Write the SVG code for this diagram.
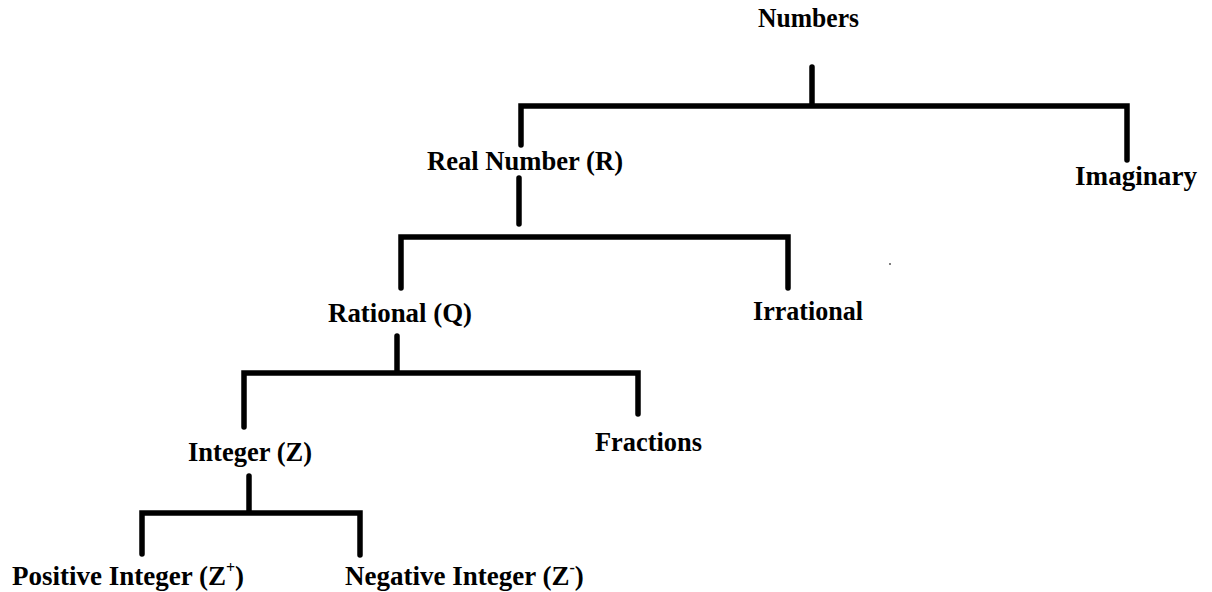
<svg xmlns="http://www.w3.org/2000/svg" width="1212" height="592" viewBox="0 0 1212 592">
<style>
.lbl{font-family:"Liberation Serif","Times New Roman",serif;font-weight:bold;font-size:27px;fill:#000}
.sup{font-size:16px}
.edge{fill:none;stroke:#000;stroke-width:5.5;stroke-linecap:round;stroke-linejoin:miter}
</style>
<rect width="1212" height="592" fill="#fff"/>
<g id="connectors">
<path class="edge" d="M812,67 V105"/>
<path class="edge" d="M521,145 V106 H1127 V160"/>
<path class="edge" d="M519,178 V224"/>
<path class="edge" d="M401,288 V237 H788 V288"/>
<path class="edge" d="M397,336 V371"/>
<path class="edge" d="M244,427 V373 H638 V414"/>
<path class="edge" d="M249,476 V511"/>
<path class="edge" d="M142,554 V513 H360 V555"/>
</g>
<g id="n-numbers"><text class="lbl" x="758" y="27" textLength="101" lengthAdjust="spacingAndGlyphs">Numbers</text></g>
<g id="n-real"><text class="lbl" x="427" y="170" textLength="196" lengthAdjust="spacingAndGlyphs">Real Number (R)</text></g>
<g id="n-imaginary"><text class="lbl" x="1075" y="185" textLength="122" lengthAdjust="spacingAndGlyphs">Imaginary</text></g>
<g id="n-rational"><text class="lbl" x="328" y="322" textLength="144" lengthAdjust="spacingAndGlyphs">Rational (Q)</text></g>
<g id="n-irrational"><text class="lbl" x="753" y="320" textLength="110" lengthAdjust="spacingAndGlyphs">Irrational</text></g>
<g id="n-integer"><text class="lbl" x="188" y="461" textLength="124" lengthAdjust="spacingAndGlyphs">Integer (Z)</text></g>
<g id="n-fractions"><text class="lbl" x="595" y="451" textLength="107" lengthAdjust="spacingAndGlyphs">Fractions</text></g>
<g id="n-positive"><text class="lbl" x="12" y="585">Positive Integer (Z<tspan class="sup" dy="-12">+</tspan><tspan dy="12">)</tspan></text></g>
<g id="n-negative"><text class="lbl" x="345" y="585" font-size="26">Negative Integer (Z<tspan class="sup" dy="-12">-</tspan><tspan dy="12">)</tspan></text></g>
<circle cx="890" cy="264" r="1" fill="#555"/>
</svg>
